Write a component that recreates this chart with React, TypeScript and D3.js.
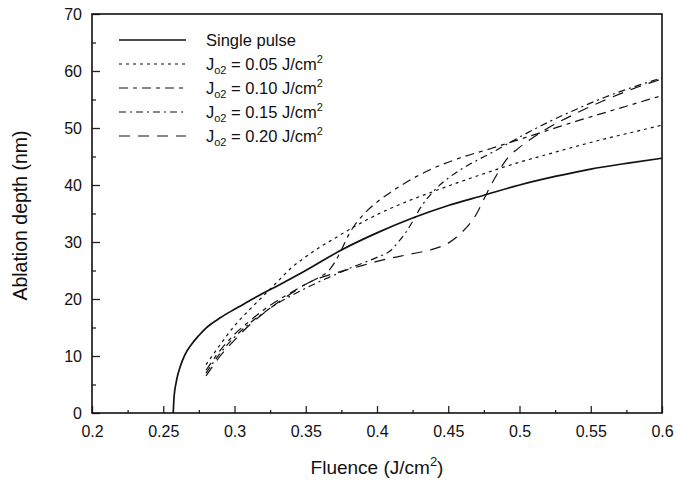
import { useEffect, useRef } from 'react';
import * as d3 from 'd3';

// axis ticks
const xMajor = [0.2, 0.25, 0.3, 0.35, 0.4, 0.45, 0.5, 0.55, 0.6];
const xMinor = [0.225, 0.275, 0.325, 0.375, 0.425, 0.475, 0.525, 0.575];
const yMajor = [0, 10, 20, 30, 40, 50, 60, 70];
const yMinor = [5, 15, 25, 35, 45, 55, 65];

// single pulse
const singleF = [0.257, 0.2575, 0.258, 0.259, 0.26, 0.262, 0.265, 0.27, 0.275, 0.28, 0.29, 0.3, 0.31, 0.32, 0.33, 0.35, 0.375, 0.4, 0.425, 0.45, 0.475, 0.5, 0.525, 0.55, 0.575, 0.6];
const singleD = [0, 2.5, 3.8, 5.3, 6.5, 8.2, 10.1, 12.1, 13.6, 14.9, 16.7, 18.2, 19.6, 21, 22.3, 25, 28.6, 31.6, 34.2, 36.4, 38.2, 40, 41.5, 42.8, 43.8, 44.7];

// Jo2 = 0.05
const j05F = [0.28, 0.29, 0.3, 0.31, 0.32, 0.33, 0.34, 0.35, 0.36, 0.37, 0.38, 0.39, 0.4, 0.42, 0.44, 0.46, 0.48, 0.5, 0.52, 0.54, 0.56, 0.58, 0.6];
const j05D = [8.5, 12, 15.3, 18, 20.5, 23, 25.5, 27.4, 29.1, 30.6, 32.1, 33.5, 34.8, 37, 38.9, 40.7, 42.4, 44, 45.4, 46.8, 48.1, 49.3, 50.5];

// Jo2 = 0.10
const j10F = [0.28, 0.29, 0.3, 0.31, 0.32, 0.33, 0.34, 0.35, 0.36, 0.365, 0.37, 0.375, 0.38, 0.385, 0.39, 0.4, 0.41, 0.42, 0.43, 0.44, 0.45, 0.46, 0.48, 0.5, 0.52, 0.54, 0.56, 0.58, 0.6];
const j10D = [7.5, 11, 13.8, 16, 18, 19.7, 21.2, 22.6, 23.9, 24.7, 26.3, 28.6, 31.2, 33.2, 34.7, 37, 38.8, 40.4, 41.8, 43, 44, 44.9, 46.4, 48, 49.6, 51.2, 52.7, 54.2, 55.7];

// Jo2 = 0.15
const j15F = [0.28, 0.29, 0.3, 0.31, 0.32, 0.33, 0.34, 0.35, 0.36, 0.37, 0.38, 0.39, 0.4, 0.41, 0.415, 0.42, 0.425, 0.43, 0.44, 0.45, 0.46, 0.47, 0.48, 0.5, 0.52, 0.54, 0.56, 0.58, 0.6];
const j15D = [7, 10.5, 13.3, 15.6, 17.5, 19.2, 20.6, 21.9, 23.1, 24.2, 25.3, 26.3, 27.3, 28.6, 30, 31.6, 33.6, 35.8, 39, 41.2, 42.9, 44.3, 45.6, 48.4, 51, 53.3, 55.4, 57.2, 58.8];

// Jo2 = 0.20
const j20F = [0.28, 0.29, 0.3, 0.31, 0.32, 0.33, 0.34, 0.35, 0.36, 0.37, 0.38, 0.39, 0.4, 0.41, 0.42, 0.43, 0.44, 0.45, 0.46, 0.47, 0.475, 0.48, 0.485, 0.49, 0.5, 0.51, 0.52, 0.54, 0.56, 0.58, 0.6];
const j20D = [6.5, 10, 12.8, 15.3, 17.4, 19.3, 21, 22.6, 23.7, 24.5, 25.2, 25.9, 26.6, 27.2, 27.7, 28.2, 28.8, 29.8, 31.8, 35, 37.5, 40, 42.2, 44.2, 46.6, 48.4, 50, 52.6, 54.9, 56.9, 58.6];

const legendValues = ['0.05', '0.10', '0.15', '0.20'];

const FONT = '"Liberation Sans", Arial, Helvetica, sans-serif';

const App = () => {
  const ref = useRef<SVGSVGElement>(null);

  useEffect(() => {
    const svg = d3.select(ref.current);
    svg.selectAll('*').remove();

    const left = 92, right = 662, top = 14, bottom = 413;
    const x = d3.scaleLinear().domain([0.2, 0.6]).range([left, right]);
    const y = d3.scaleLinear().domain([0, 70]).range([bottom, top]);

    // minor ticks first
    svg.append('g')
      .attr('transform', `translate(0,${bottom})`)
      .call(d3.axisBottom(x).tickValues(xMinor).tickSizeInner(-3).tickSizeOuter(0).tickFormat(() => ''))
      .call(g => g.select('.domain').remove());
    svg.append('g')
      .attr('transform', `translate(${left},0)`)
      .call(d3.axisLeft(y).tickValues(yMinor).tickSizeInner(-4).tickSizeOuter(0).tickFormat(() => ''))
      .call(g => g.select('.domain').remove());

    const xa = svg.append('g')
      .attr('transform', `translate(0,${bottom})`)
      .call(d3.axisBottom(x).tickValues(xMajor).tickSizeInner(-7).tickSizeOuter(0).tickPadding(13).tickFormat(d => String(d)));
    xa.select('.domain').remove();

    const ya = svg.append('g')
      .attr('transform', `translate(${left},0)`)
      .call(d3.axisLeft(y).tickValues(yMajor).tickSizeInner(-8).tickSizeOuter(0).tickPadding(10));
    ya.select('.domain').remove();

    svg.selectAll('.tick line').attr('stroke', '#222').attr('stroke-width', 1.3);
    svg.selectAll('.tick text').attr('font-family', FONT).attr('font-size', 16).attr('fill', '#111');

    // frame
    svg.append('rect')
      .attr('x', left).attr('y', top)
      .attr('width', right - left).attr('height', bottom - top)
      .attr('fill', 'none').attr('stroke', '#111').attr('stroke-width', 1.6);

    const line = d3.line<[number, number]>()
      .x(d => x(d[0]))
      .y(d => y(d[1]))
      .curve(d3.curveMonotoneX);

    const series = [
      { f: singleF, d: singleD, dash: null, w: 1.7 },
      { f: j05F, d: j05D, dash: '3,4', w: 1.2 },
      { f: j10F, d: j10D, dash: '9,5,4,5', w: 1.2 },
      { f: j15F, d: j15D, dash: '7,4,2,4', w: 1.2 },
      { f: j20F, d: j20D, dash: '11,8', w: 1.2 },
    ];

    series.forEach(s => {
      const pts = s.f.map((v, i) => [v, s.d[i]] as [number, number]);
      svg.append('path')
        .datum(pts)
        .attr('fill', 'none')
        .attr('stroke', '#111')
        .attr('stroke-width', s.w)
        .attr('stroke-dasharray', s.dash)
        .attr('d', line);
    });

    // legend
    const lg = svg.append('g').attr('font-family', FONT).attr('font-size', 16.5).attr('fill', '#111');
    series.forEach((s, i) => {
      const yy = 40 + i * 24;
      lg.append('line')
        .attr('x1', 119).attr('x2', 186).attr('y1', yy).attr('y2', yy)
        .attr('stroke', '#111').attr('stroke-width', s.w)
        .attr('stroke-dasharray', s.dash);
      const t = lg.append('text').attr('x', 206).attr('y', yy + 6);
      if (i === 0) {
        t.text('Single pulse');
      } else {
        t.append('tspan').text('J');
        t.append('tspan').attr('font-size', 11).attr('dy', 4).text('o2');
        t.append('tspan').attr('dy', -4).text(` = ${legendValues[i - 1]} J/cm`);
        t.append('tspan').attr('font-size', 11).attr('dy', -7).text('2');
      }
    });

    // axis titles
    const xt = svg.append('text')
      .attr('x', (left + right) / 2).attr('y', 474)
      .attr('text-anchor', 'middle')
      .attr('font-family', FONT).attr('font-size', 19).attr('fill', '#111');
    xt.append('tspan').text('Fluence (J/cm');
    xt.append('tspan').attr('font-size', 13).attr('dy', -8).text('2');
    xt.append('tspan').attr('dy', 8).text(')');

    svg.append('text')
      .attr('transform', `translate(27,${(top + bottom) / 2 + 2}) rotate(-90)`)
      .attr('text-anchor', 'middle')
      .attr('font-family', FONT).attr('font-size', 19.5).attr('fill', '#111')
      .text('Ablation depth (nm)');
  }, []);

  return (
    <svg ref={ref} width={676} height={490}
      style={{ position: 'absolute', left: 0, top: 0, background: '#fff' }} />
  );
};

export default App;
